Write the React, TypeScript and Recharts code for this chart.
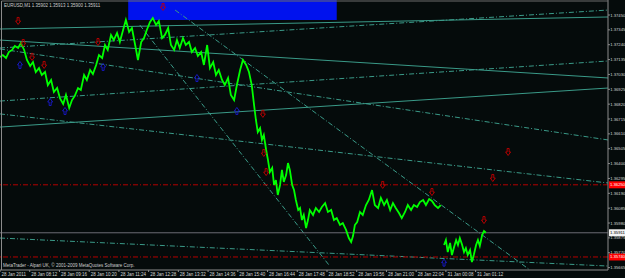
import React from 'react';
import { ComposedChart, Line, XAxis, YAxis, ReferenceLine, ReferenceArea, Scatter } from 'recharts';

const FONT = '"Liberation Sans", Arial, sans-serif';

// x axis: minutes since chart start (28 Jan 2011 07:08), tick every 64 bars
const timeTicks = [0, 64, 128, 192, 256, 320, 384, 448, 512, 576, 640, 704, 768, 832, 896, 960, 1024];
const timeLabels = [
  '28 Jan 2011', '28 Jan 08:12', '28 Jan 09:16', '28 Jan 10:20', '28 Jan 11:24', '28 Jan 12:28',
  '28 Jan 13:32', '28 Jan 14:36', '28 Jan 15:40', '28 Jan 16:44', '28 Jan 17:48', '28 Jan 18:52',
  '28 Jan 19:56', '28 Jan 21:00', '28 Jan 22:04', '31 Jan 00:08', '31 Jan 01:12',
];
const priceTicks = [
  1.3745, 1.37345, 1.3724, 1.37135, 1.3703, 1.36925, 1.3682, 1.36715, 1.3661,
  1.36505, 1.364, 1.36295, 1.3619, 1.36085, 1.3598, 1.35875, 1.3577, 1.35665,
];

// EURUSD M1 closes
const priceTimes = [
  0, 6, 13, 19, 26, 32, 39, 45, 52, 58,
  65, 71, 77, 84, 90, 97, 103, 110, 116, 123,
  129, 136, 142, 149, 155, 161, 168, 174, 181, 187,
  194, 200, 207, 213, 220, 226, 232, 239, 245, 252,
  258, 265, 271, 278, 284, 291, 297, 304, 310, 316,
  323, 329, 336, 342, 349, 355, 362, 368, 375, 381,
  387, 394, 400, 407, 413, 420, 426, 433, 439, 446,
  452, 459, 465, 471, 478, 484, 491, 497, 504, 510,
  517, 523, 530, 536, 542, 547, 551, 555, 560, 564,
  568, 573, 577, 581, 586, 590, 594, 598, 603, 607,
  611, 616, 620, 624, 629, 633, 637, 642, 646, 650,
  654, 659, 663, 667, 674, 680, 687, 693, 700, 706,
  713, 719, 725, 732, 738, 745, 751, 756, 760, 764,
  769, 775, 781, 788, 794, 801, 807, 814, 820, 827,
  833, 840, 846, 852, 859, 865, 872, 878, 885, 891,
  898, 904, 911, 917, 924, 930, 936, 943, 949, 952,
  956, 960, 964, 969, 973, 977, 982, 986, 990, 995,
  999, 1003, 1007, 1012, 1016, 1020, 1025, 1029, 1033, 1038,
  1042, 1046,
];
const priceCloses = [
  1.37153, 1.37167, 1.37146, 1.37188, 1.37203, 1.37231, 1.37217, 1.37252, 1.37203, 1.37132,
  1.3709, 1.37118, 1.37047, 1.37075, 1.37026, 1.37047, 1.36955, 1.36991, 1.36906, 1.36934,
  1.36863, 1.36821, 1.36885, 1.36793, 1.36849, 1.36878, 1.36934, 1.3692, 1.37026, 1.36991,
  1.37061, 1.37033, 1.37097, 1.37167, 1.37146, 1.37238, 1.37203, 1.37309, 1.37273, 1.37323,
  1.37259, 1.37344, 1.37415, 1.3733, 1.37358, 1.37238, 1.37132, 1.37259, 1.37287, 1.37344,
  1.37401, 1.37429, 1.37379, 1.37408, 1.37287, 1.37309, 1.37358, 1.37238, 1.37203, 1.37273,
  1.37217, 1.37287, 1.37238, 1.37259, 1.37188, 1.37217, 1.3716, 1.37188, 1.37097, 1.37238,
  1.37075, 1.37118, 1.37026, 1.37061, 1.36991, 1.36955, 1.37005, 1.36885, 1.36849, 1.36955,
  1.37061, 1.37132, 1.37097, 1.37047, 1.36955, 1.36814, 1.36708, 1.36623, 1.36651, 1.36567,
  1.36602, 1.36496, 1.36425, 1.3634, 1.36369, 1.36249, 1.36284, 1.36178, 1.36249, 1.36355,
  1.3627, 1.36319, 1.36404, 1.36355, 1.36249, 1.36213, 1.36143, 1.36072, 1.36086, 1.36001,
  1.36037, 1.35945, 1.36001, 1.36072, 1.36037, 1.36086, 1.36058, 1.36093, 1.36121, 1.36058,
  1.36072, 1.36001, 1.36015, 1.35966, 1.3598, 1.35931, 1.35874, 1.35846, 1.35888, 1.35966,
  1.35987, 1.36058, 1.36037, 1.36107, 1.36143, 1.36213, 1.36107, 1.36086, 1.36157, 1.36107,
  1.36143, 1.36072, 1.36121, 1.36086, 1.36051, 1.36015, 1.36058, 1.36107, 1.36072, 1.36107,
  1.36093, 1.36128, 1.36143, 1.36107, 1.3615, 1.36136, 1.36107, 1.36086, 1.36107, null,
  1.35825, 1.3586, 1.35775, 1.35839, 1.35754, 1.35803, 1.3586, 1.35825, 1.35874, 1.35825,
  1.35775, 1.35803, 1.35754, 1.35789, 1.35704, 1.35754, 1.35825, 1.3586, 1.35818, 1.35895,
  1.35923, 1.35911,
];

// trend lines (start/end time, start/end price)
const lineStartTimes = [0, 0, 0, 0, 0, 0, 0, 377, 301, 0];
const lineStartPrices = [1.37351, 1.37217, 1.37273, 1.36658, 1.36842, 1.36751, 1.3721, 1.37485, 1.37379, 1.35874];
const lineEndTimes = [1309, 1309, 1309, 1309, 1309, 1309, 1309, 1141, 710, 1309];
const lineEndPrices = [1.37436, 1.37485, 1.37005, 1.36934, 1.37125, 1.36263, 1.36567, 1.35648, 1.35676, 1.35676];
const lineStyles = ['solid', 'dashdot', 'solid', 'solid', 'dashdot', 'dashdot', 'dashdot', 'dashdot', 'dashdot', 'dashdot'];

// horizontal levels
const redLevels = [1.3625, 1.3574];
const bidPrice = 1.35911;

// rectangle
const rectTimes = [276, 725];
const rectPrices = [1.37414, 1.37556];

// arrows
const redArrowTimes = [351, 39, 50, 69, 211, 95, 566, 568, 573, 824, 930, 1042, 1061, 1094];
const redArrowPrices = [1.37507, 1.37408, 1.37252, 1.37154, 1.37259, 1.37097, 1.36751, 1.36475, 1.3634, 1.36249, 1.36199, 1.36001, 1.36298, 1.36482];
const blueArrowTimes = [43, 108, 140, 222, 424, 510, 956];
const blueArrowPrices = [1.37097, 1.36835, 1.36772, 1.37083, 1.37005, 1.36772, 1.357];

const priceData = priceTimes.map((t, i) => ({ t, p: priceCloses[i] }));
const redArrowData = redArrowTimes.map((t, i) => ({ t, p: redArrowPrices[i] }));
const blueArrowData = blueArrowTimes.map((t, i) => ({ t, p: blueArrowPrices[i] }));

const TEAL = '#3a9a88';
const BG = '#050b0b';
const FS = 4.2;

const XTick = (props: any) => {
  const { x, y, payload } = props;
  const i = timeTicks.indexOf(payload.value);
  return (
    <g>
      <line x1={x} x2={x} y1={y} y2={y + 2} stroke="#8c8c8c" strokeWidth={1} />
      <text x={x + 1.5} y={y + 5.5} fontSize={4.5} fill="#d4d4d4" fontFamily={FONT} textAnchor="start">
        {timeLabels[i]}
      </text>
    </g>
  );
};

const YTick = (props: any) => {
  const { x, y, payload } = props;
  return (
    <g>
      <line x1={x} x2={x + 2} y1={y} y2={y} stroke="#8c8c8c" strokeWidth={1} />
      <text x={x + 2.2} y={y + 1.5} fontSize={FS} fill="#d4d4d4" fontFamily={FONT} textAnchor="start">
        {Number(payload.value).toFixed(5)}
      </text>
    </g>
  );
};

const PriceTag = (props: any) => {
  const { viewBox, text, bg, fg } = props;
  if (!viewBox) return null;
  const x = viewBox.x + viewBox.width + 1;
  const y = viewBox.y;
  return (
    <g>
      <rect x={x} y={y - 3.5} width={17} height={7} fill={bg} />
      <text x={x + 1} y={y + 1.5} fontSize={FS} fill={fg} fontFamily={FONT}>
        {text}
      </text>
    </g>
  );
};

const DownArrow = (props: any) => {
  const { cx, cy } = props;
  if (cx == null || cy == null) return null;
  return (
    <path
      d={`M${cx - 1} ${cy - 3.5} h2 v3.5 h1.5 l-2.5 3.5 l-2.5 -3.5 h1.5 z`}
      fill="none"
      stroke="#c40000"
      strokeWidth={0.9}
    />
  );
};

const UpArrow = (props: any) => {
  const { cx, cy } = props;
  if (cx == null || cy == null) return null;
  return (
    <path
      d={`M${cx - 1} ${cy + 3.5} h2 v-3.5 h1.5 l-2.5 -3.5 l-2.5 3.5 h1.5 z`}
      fill="none"
      stroke="#1a1ad0"
      strokeWidth={0.9}
    />
  );
};

export default function App() {
  return (
    <div style={{ position: 'absolute', left: 0, top: 0, width: 625, height: 278, background: BG, overflow: 'hidden' }}>
      <ComposedChart width={625} height={278} data={priceData} margin={{ top: 0, right: 0, left: 0, bottom: 0 }}>
        <XAxis
          dataKey="t"
          type="number"
          domain={[0, 1309]}
          ticks={timeTicks}
          interval={0}
          tick={<XTick />}
          tickLine={false}
          tickSize={0}
          tickMargin={0}
          height={8}
          axisLine={{ stroke: '#8c8c8c' }}
          allowDataOverflow
        />
        <YAxis
          type="number"
          orientation="right"
          domain={[1.35648, 1.37556]}
          ticks={priceTicks}
          interval={0}
          tick={<YTick />}
          tickLine={false}
          tickSize={0}
          tickMargin={0}
          width={17}
          axisLine={{ stroke: '#8c8c8c' }}
          allowDataOverflow
        />
        {lineStartTimes.map((t, i) => (
          <ReferenceLine
            key={'tl' + i}
            segment={[
              { x: t, y: lineStartPrices[i] },
              { x: lineEndTimes[i], y: lineEndPrices[i] },
            ]}
            stroke={TEAL}
            strokeWidth={1}
            strokeDasharray={lineStyles[i] === 'dashdot' ? '5 2 1 2' : undefined}
            ifOverflow="hidden"
          />
        ))}
        <ReferenceLine
          y={redLevels[0]}
          stroke="#b40000"
          strokeDasharray="5 2 1 2"
          label={<PriceTag text={redLevels[0].toFixed(5)} bg="#ff0000" fg="#ffffff" />}
        />
        <ReferenceLine
          y={redLevels[1]}
          stroke="#b40000"
          strokeDasharray="5 2 1 2"
          label={<PriceTag text={redLevels[1].toFixed(5)} bg="#ff0000" fg="#ffffff" />}
        />
        <ReferenceLine
          y={bidPrice}
          stroke="#6c6c74"
          label={<PriceTag text={bidPrice.toFixed(5)} bg="#f2f2f2" fg="#000000" />}
        />
        <Line
          dataKey="p"
          type="linear"
          stroke="#00ff00"
          strokeWidth={1.8}
          dot={false}
          activeDot={false}
          isAnimationActive={false}
        />
        <ReferenceArea
          x1={rectTimes[0]}
          x2={rectTimes[1]}
          y1={rectPrices[0]}
          y2={rectPrices[1]}
          fill="#0012ee"
          fillOpacity={1}
          stroke="none"
          ifOverflow="hidden"
        />
        <Scatter data={redArrowData} dataKey="p" shape={<DownArrow />} isAnimationActive={false} />
        <Scatter data={blueArrowData} dataKey="p" shape={<UpArrow />} isAnimationActive={false} />
      </ComposedChart>
      <svg width={625} height={278} style={{ position: 'absolute', left: 0, top: 0, pointerEvents: 'none' }}>
        <line x1={1.5} x2={1.5} y1={1} y2={270} stroke="#8c8c8c" strokeWidth={1} />
        <line x1={1.5} x2={608} y1={1} y2={1} stroke="#6c6c6c" strokeWidth={1} />
        <text x={4} y={7.2} fontSize={4.5} fill="#cfcfcf" fontFamily={FONT}>
          EURUSD,M1  1.35902 1.35913 1.35900 1.35911
        </text>
        <text x={3} y={267} fontSize={4.5} fill="#cfcfcf" fontFamily={FONT}>
          MetaTrader - Alpari UK, © 2001-2009 MetaQuotes Software Corp.
        </text>
      </svg>
    </div>
  );
}
